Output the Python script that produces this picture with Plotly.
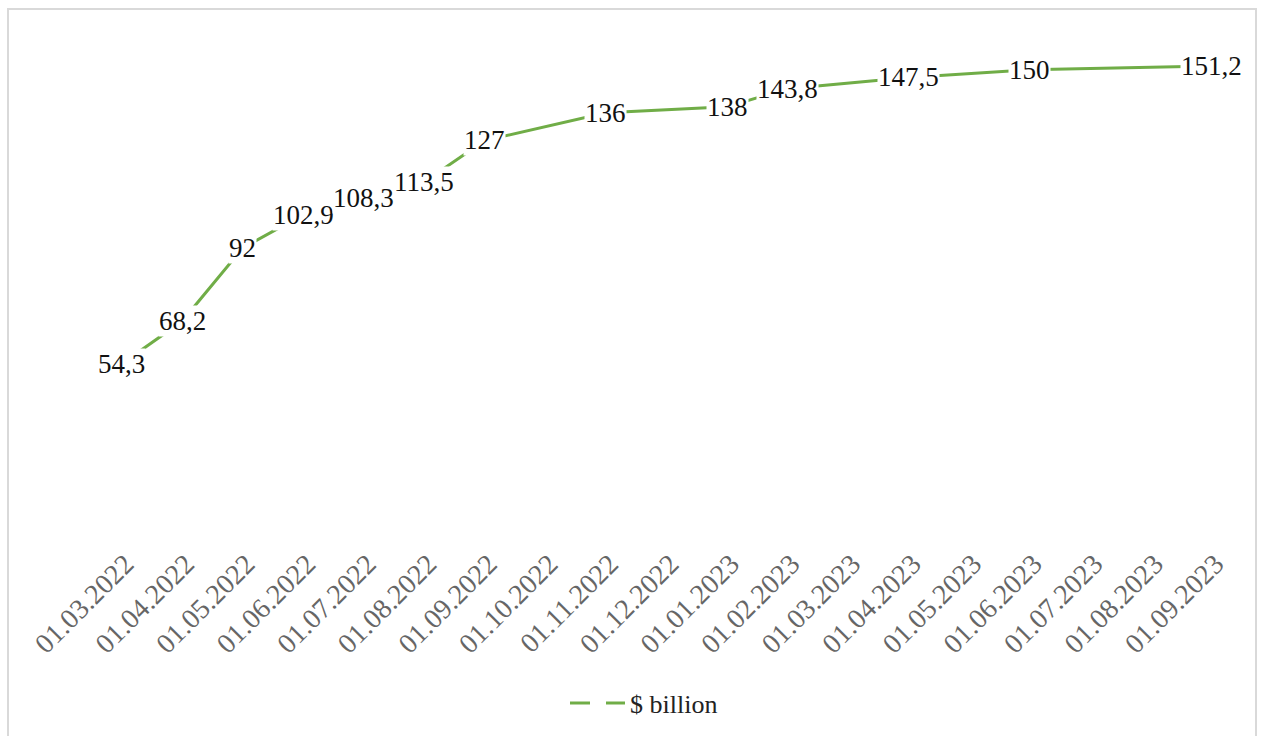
import plotly.graph_objects as go

# Monthly values, $ billion (months without a reading are left empty)
dates = [
    "01.03.2022", "01.04.2022", "01.05.2022", "01.06.2022", "01.07.2022",
    "01.08.2022", "01.09.2022", "01.10.2022", "01.11.2022", "01.12.2022",
    "01.01.2023", "01.02.2023", "01.03.2023", "01.04.2023", "01.05.2023",
    "01.06.2023", "01.07.2023", "01.08.2023", "01.09.2023",
]
values = [
    54.3, 68.2, 92, 102.9, 108.3,
    113.5, 127, None, 136, None,
    138, 143.8, None, 147.5, None,
    150, None, None, 151.2,
]
series_name = "$ billion"

GREEN = "#70AD47"
SERIF = "Liberation Serif"

W, H = 1262, 736
ML, MR, MT, MB = 97, 19, 39, 205
PW, PH = W - ML - MR, H - MT - MB


def px_x(x):
    return (x - ML) / PW


def px_y(y):
    return (H - MB - y) / PH


fig = go.Figure()
fig.add_trace(go.Scatter(
    x=dates, y=values, name=series_name,
    mode="lines", connectgaps=True,
    line=dict(color=GREEN, width=3),
    showlegend=False, hoverinfo="x+y",
))

# Value labels sit on the points with a white box that masks the line
annotations = []
for d, v in zip(dates, values):
    if v is None:
        continue
    annotations.append(dict(
        x=d, y=v, xref="x", yref="y",
        text=f"{v:g}".replace(".", ","),
        showarrow=False, bgcolor="white", borderpad=0,
        font=dict(family=SERIF, size=27, color="#111111"),
    ))

# Legend entry below the axis
annotations.append(dict(
    x=px_x(628), y=px_y(704), xref="paper", yref="paper",
    xanchor="left", yanchor="middle", showarrow=False,
    text=series_name, font=dict(family=SERIF, size=26, color="#222222"),
))

shapes = [
    # chart frame
    dict(type="rect", xref="paper", yref="paper",
         x0=px_x(8), x1=px_x(1256), y0=px_y(9), y1=px_y(740),
         line=dict(color="#D9D9D9", width=2), fillcolor="rgba(0,0,0,0)"),
    # legend line sample
    dict(type="line", xref="paper", yref="paper",
         x0=px_x(570), x1=px_x(590), y0=px_y(703), y1=px_y(703),
         line=dict(color=GREEN, width=3)),
    dict(type="line", xref="paper", yref="paper",
         x0=px_x(606), x1=px_x(625), y0=px_y(703), y1=px_y(703),
         line=dict(color=GREEN, width=3)),
]

fig.update_layout(
    width=W, height=H,
    margin=dict(l=ML, r=MR, t=MT, b=MB),
    paper_bgcolor="white", plot_bgcolor="white",
    showlegend=False,
    annotations=annotations, shapes=shapes,
    xaxis=dict(
        type="category", showgrid=False, zeroline=False, showline=False,
        ticks="", tickangle=-45, ticklabelstandoff=10, ticklabelshift=4,
        tickfont=dict(family=SERIF, size=28, color="#666666"),
    ),
    yaxis=dict(range=[0, 160], visible=False, showgrid=False, zeroline=False),
)

fig.write_html("out.html")
